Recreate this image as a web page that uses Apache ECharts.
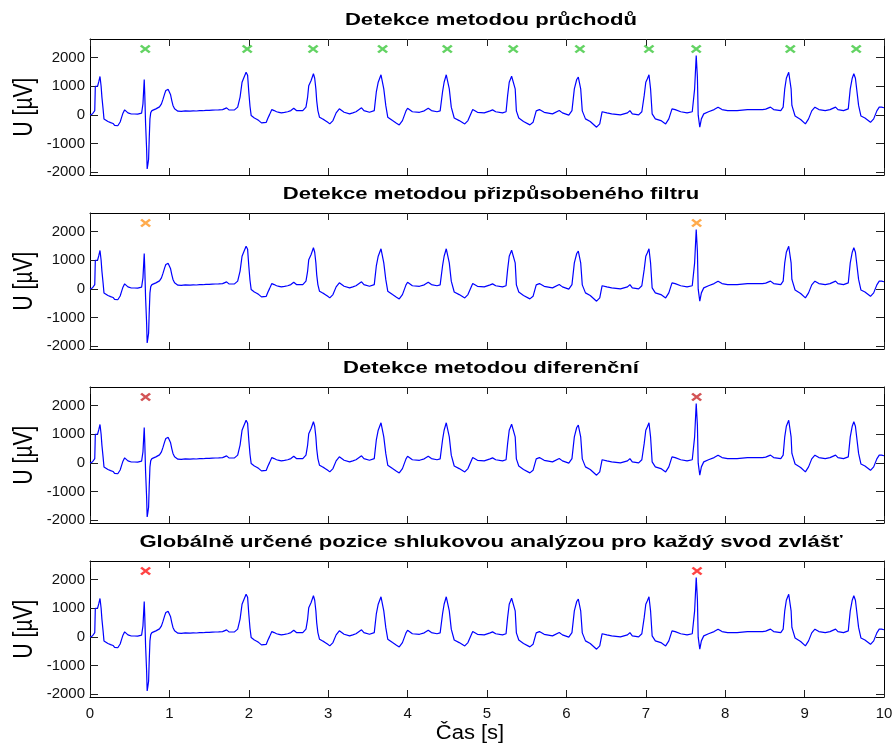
<!DOCTYPE html>
<html>
<head>
<meta charset="utf-8">
<script src="https://cdn.jsdelivr.net/npm/echarts@6/dist/echarts.min.js"></script>
<style>html,body{margin:0;padding:0;background:#fff}#c{width:896px;height:749px}</style>
</head>
<body>
<div id="c"></div>
<script>
// ---- data ----
const panelTitles = [
  'Detekce metodou průchodů',
  'Detekce metodou přizpůsobeného filtru',
  'Detekce metodou diferenční',
  'Globálně určené pozice shlukovou analýzou pro každý svod zvlášť'
];
const yTickValues = [-2000, -1000, 0, 1000, 2000];
const xLabel = 'Čas [s]';
const yLabel = 'U [µV]';
// ECG signal [time s, voltage µV]
const ecgSignal = [
[0.00,0],[0.03,30],[0.06,150],[0.067,1000],[0.08,950],[0.095,1000],[0.11,1150],[0.126,1340],[0.14,1000],[0.15,620],[0.165,200],[0.176,-140],[0.2,-180],[0.226,-230],[0.26,-270],[0.29,-300],[0.31,-370],[0.33,-400],[0.35,-380],[0.365,-340],[0.38,-250],[0.395,-115],[0.415,60],[0.436,175],[0.455,130],[0.478,70],[0.5,45],[0.52,30],[0.56,30],[0.6,28],[0.625,30],[0.65,60],[0.667,385],[0.683,1235],[0.69,700],[0.7,-300],[0.713,-1190],[0.72,-1890],[0.728,-1750],[0.738,-1550],[0.745,-900],[0.755,-140],[0.765,80],[0.78,150],[0.8,190],[0.83,210],[0.855,220],[0.875,280],[0.9,385],[0.92,550],[0.94,735],[0.955,850],[0.97,910],[0.985,890],[1.0,840],[1.015,700],[1.03,500],[1.045,330],[1.065,210],[1.085,150],[1.107,130],[1.15,125],[1.2,140],[1.22,115],[1.26,130],[1.3,140],[1.34,135],[1.38,150],[1.42,145],[1.46,160],[1.5,155],[1.54,165],[1.58,170],[1.62,175],[1.67,185],[1.72,245],[1.75,175],[1.78,170],[1.82,175],[1.86,270],[1.89,620],[1.915,1140],[1.935,1280],[1.95,1300],[1.966,1490],[1.985,1380],[2.0,800],[2.015,300],[2.03,-25],[2.07,-110],[2.1,-150],[2.126,-200],[2.16,-280],[2.185,-340],[2.22,-260],[2.24,-120],[2.26,0],[2.29,185],[2.32,150],[2.35,110],[2.38,90],[2.41,70],[2.45,85],[2.49,110],[2.53,150],[2.566,230],[2.6,150],[2.64,145],[2.68,150],[2.72,270],[2.74,600],[2.755,1020],[2.785,1200],[2.814,1435],[2.83,1280],[2.845,900],[2.855,500],[2.87,150],[2.89,-80],[2.92,-130],[2.95,-175],[2.99,-250],[3.02,-315],[3.06,-200],[3.1,70],[3.14,210],[3.17,150],[3.2,90],[3.27,35],[3.31,70],[3.35,110],[3.37,140],[3.42,245],[3.45,150],[3.52,90],[3.58,150],[3.606,800],[3.63,1140],[3.665,1400],[3.68,1435],[3.7,910],[3.725,330],[3.75,-80],[3.81,-200],[3.86,-290],[3.895,-350],[3.935,-200],[3.98,140],[4.0,230],[4.06,110],[4.15,90],[4.21,140],[4.26,230],[4.3,150],[4.37,110],[4.41,140],[4.44,800],[4.46,1140],[4.487,1400],[4.5,1435],[4.525,910],[4.55,270],[4.587,-110],[4.65,-200],[4.72,-315],[4.76,-200],[4.82,185],[4.88,90],[4.965,70],[5.04,140],[5.07,175],[5.11,110],[5.195,70],[5.24,110],[5.26,680],[5.28,1140],[5.31,1350],[5.33,1400],[5.355,910],[5.37,140],[5.40,-110],[5.46,-230],[5.54,-350],[5.58,-260],[5.62,140],[5.66,185],[5.72,90],[5.825,35],[5.91,150],[5.95,70],[6.03,-10],[6.07,150],[6.1,910],[6.13,1235],[6.15,1320],[6.18,910],[6.2,140],[6.24,-140],[6.3,-230],[6.38,-430],[6.42,-315],[6.45,110],[6.51,70],[6.57,35],[6.68,0],[6.77,70],[6.80,150],[6.83,35],[6.91,0],[6.95,110],[6.98,680],[7.0,1140],[7.02,1260],[7.04,1400],[7.06,910],[7.08,35],[7.12,-140],[7.19,-200],[7.25,-315],[7.29,-140],[7.33,210],[7.37,185],[7.44,110],[7.52,70],[7.585,110],[7.615,910],[7.635,2075],[7.65,1300],[7.66,-10],[7.68,-430],[7.70,-140],[7.73,35],[7.79,110],[7.86,185],[7.91,270],[7.96,185],[8.03,150],[8.15,150],[8.28,185],[8.38,180],[8.47,185],[8.51,200],[8.57,270],[8.61,185],[8.70,150],[8.73,270],[8.75,910],[8.77,1280],[8.80,1490],[8.83,910],[8.84,330],[8.88,-40],[8.95,-160],[9.01,-315],[9.05,-140],[9.09,140],[9.13,270],[9.18,185],[9.26,150],[9.32,185],[9.39,270],[9.42,185],[9.49,150],[9.55,210],[9.575,910],[9.60,1280],[9.62,1435],[9.64,1280],[9.68,330],[9.71,-40],[9.76,-110],[9.83,-260],[9.87,-140],[9.91,140],[9.94,270],[9.97,270],[10.0,250]
];
const markersPanel1 = [0.696, 1.98, 2.81, 3.685, 4.50, 5.33, 6.17, 7.04, 7.635, 8.82, 9.65];
const markersPanel2 = [0.70, 7.64];
const markersPanel3 = [0.70, 7.64];
const markersPanel4 = [0.70, 7.645];
const markerLevel = 2300;

// ---- layout / style ----
const markerSets = [markersPanel1, markersPanel2, markersPanel3, markersPanel4];
const markerColors = ['#3cc83c', '#ff9620', '#c8282a', '#ff1414'];
const tops = [39, 213, 387, 561];
const H = 136, L = 90, R = 12;
const FONT = 'Liberation Sans, Arial, sans-serif';
const plain = v => String(Math.round(v));

const grid = [], xAxis = [], yAxis = [], series = [], graphic = [];
tops.forEach((top, i) => {
  grid.push({left: L, right: R, top: top, height: H, containLabel: false});
  const last = i === tops.length - 1;
  const commonLine = {show: true, onZero: false, lineStyle: {color: '#000', width: 1}};
  xAxis.push({type: 'value', gridIndex: i, min: 0, max: 10, interval: 1, position: 'bottom',
    axisLine: commonLine, axisTick: {show: true, inside: true, length: 7, lineStyle: {color: '#222'}},
    axisLabel: {show: last, margin: 9, fontSize: 15, fontFamily: FONT, color: '#111', formatter: plain},
    splitLine: {show: false}});
  xAxis.push({type: 'value', gridIndex: i, min: 0, max: 10, interval: 1, position: 'top',
    axisLine: commonLine, axisTick: {show: true, inside: true, length: 7, lineStyle: {color: '#222'}},
    axisLabel: {show: false}, splitLine: {show: false}});
  yAxis.push({type: 'value', gridIndex: i, min: -2100, max: 2650, position: 'left',
    axisLine: commonLine, axisTick: {show: true, inside: true, length: 8, customValues: yTickValues, lineStyle: {color: '#222'}},
    axisLabel: {show: true, margin: 5, fontSize: 15, fontFamily: FONT, color: '#111', customValues: yTickValues, formatter: plain},
    splitLine: {show: false}});
  yAxis.push({type: 'value', gridIndex: i, min: -2100, max: 2650, position: 'right',
    axisLine: commonLine, axisTick: {show: true, inside: true, length: 8, customValues: yTickValues, lineStyle: {color: '#222'}},
    axisLabel: {show: false}, splitLine: {show: false}});
  series.push({type: 'line', xAxisIndex: 2 * i, yAxisIndex: 2 * i, data: ecgSignal,
    showSymbol: false, symbol: 'none', lineStyle: {color: '#0000ff', width: 1.2}, clip: true, z: 2});
  series.push({type: 'scatter', xAxisIndex: 2 * i, yAxisIndex: 2 * i,
    data: markerSets[i].map(t => [t, markerLevel]),
    symbol: 'path://M0,0L10,8M10,0L0,8', symbolSize: [9, 7],
    itemStyle: {color: 'none', borderColor: markerColors[i], borderWidth: 2.4}, z: 3});
  graphic.push({type: 'text', x: 491, y: top - 19, scaleX: 1.3,
    style: {text: panelTitles[i], fontSize: 17, fontWeight: 'bold', fontFamily: FONT, fill: '#000',
      textAlign: 'center', textVerticalAlign: 'middle', verticalAlign: 'middle'}});
  graphic.push({type: 'text', x: 24, y: top + H / 2, rotation: Math.PI / 2, scaleY: 1.3,
    style: {text: yLabel, fontSize: 21, fontFamily: FONT, fill: '#000',
      textAlign: 'center', textVerticalAlign: 'middle', verticalAlign: 'middle'}});
});
graphic.push({type: 'text', x: 470, y: 733, scaleX: 1.1,
  style: {text: xLabel, fontSize: 20, fontFamily: FONT, fill: '#000',
    textAlign: 'center', textVerticalAlign: 'middle', verticalAlign: 'middle'}});

const chart = echarts.init(document.getElementById('c'), null, {renderer: 'canvas'});
chart.setOption({animation: false, backgroundColor: '#fff', grid, xAxis, yAxis, series, graphic});
</script>
</body>
</html>
